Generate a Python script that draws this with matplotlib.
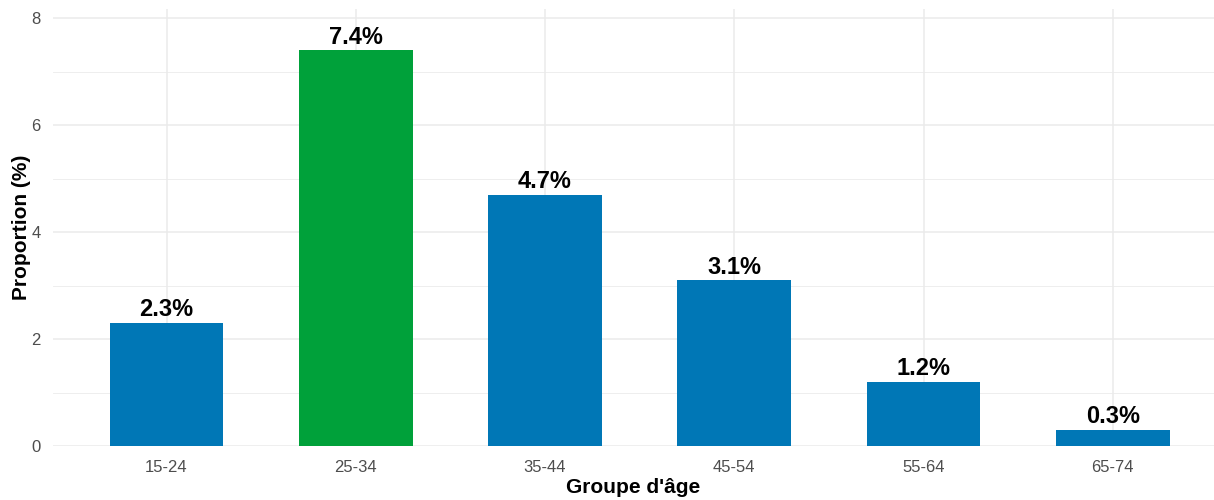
import matplotlib
matplotlib.use('Agg')
import matplotlib.pyplot as plt
from matplotlib.ticker import MultipleLocator

plt.rcParams['font.family'] = ['Liberation Sans', 'DejaVu Sans']

# age groups and proportions (%)
groups = ['15-24', '25-34', '35-44', '45-54', '55-64', '65-74']
values = [2.3, 7.4, 4.7, 3.1, 1.2, 0.3]
highlight = '25-34'

blue = '#0077B6'
green = '#00A13A'
colors = [green if g == highlight else blue for g in groups]

fig = plt.figure(figsize=(12.14, 5), dpi=100)
ax = fig.add_axes([53 / 1214, 54 / 500, (1214 - 53) / 1214, 437 / 500])

x = range(len(groups))
ax.bar(x, values, width=0.6, color=colors, zorder=2)

for xi, v in zip(x, values):
    ax.text(xi, v + 0.03, f'{v:.1f}%', ha='center', va='bottom',
            fontsize=17, fontweight='bold', color='black', zorder=3)

ax.set_xlim(-0.6, 5.535)
ax.set_ylim(0, 8.17)
ax.yaxis.set_major_locator(MultipleLocator(2))
ax.yaxis.set_minor_locator(MultipleLocator(1))
ax.set_xticks(list(x))
ax.set_xticklabels(groups)

ax.grid(which='major', axis='both', color='#ebebeb', linewidth=1.1, zorder=0)
ax.grid(which='minor', axis='y', color='#ebebeb', linewidth=0.6, zorder=0)
ax.set_axisbelow(True)
for s in ax.spines.values():
    s.set_visible(False)
ax.tick_params(which='both', length=0, labelsize=12, labelcolor='#4d4d4d')
ax.tick_params(axis='x', pad=10)
ax.tick_params(axis='y', pad=9)

ax.set_xlabel("Groupe d'âge", fontsize=15, fontweight='bold', labelpad=2)
ax.set_ylabel('Proportion (%)', fontsize=15, fontweight='bold', labelpad=0)

fig.savefig('out.png', dpi=100)
